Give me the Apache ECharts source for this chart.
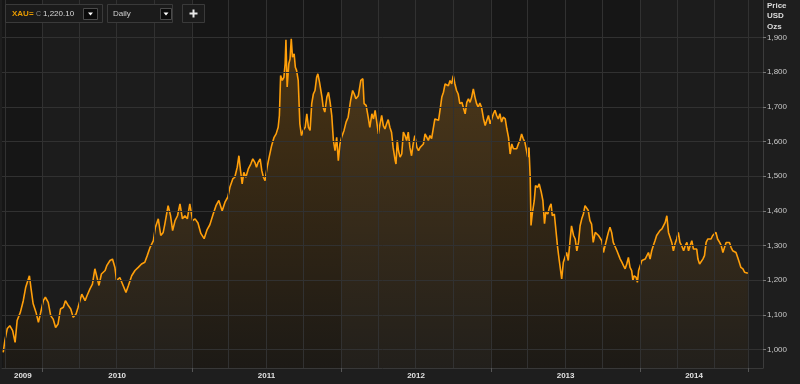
<!DOCTYPE html>
<html><head><meta charset="utf-8">
<script src="https://cdn.jsdelivr.net/npm/echarts@6/dist/echarts.min.js"></script>
<style>html,body{margin:0;padding:0;background:#1e1e1e}#c{width:800px;height:384px}</style>
</head><body><div id="c"></div>
<script>
// ---- data ----
const START = [2009, 9, 1]; // 2009-10-01, day offsets below count from here
const dayOffsets = [
-4,0,6,12,19,25,30,38,45,51,60,64,69,76,82,87,94,99,106,112,118,124,130,136,143,148,155,161,167,174,179,188,196,201,208,214,220,224,230,236,245,249,257,263,269,273,281,289,296,302,310,318,326,334,342,348,355,363,368,375,381,387,391,399,405,410,416,422,428,434,440,446,452,459,465,
472,479,487,494,501,509,516,523,531,538,545,
550,557,562,568,572,576,580,584,589,595,601,606,611,615,619,624,628,632,636,641,646,652,658,663,668,671,674,678,682,685,687,690,694,697,700,703,707,710,713,717,721,725,729,734,738,742,746,750,754,758,762,765,769,772,775,778,782,787,791,795,799,803,807,811,815,819,823,829,834,839,845,850,854,858,864,870,875,878,883,888,892,897,901,905,
913,917,921,925,929,933,937,941,945,949,954,956,959,962,966,970,974,978,982,986,990,994,998,1002,1007,1011,1015,1019,1023,1027,1031,1035,1039,1043,1047,1051,1055,1060,1064,1068,1072,1076,1080,1084,1088,1092,1096,1100,1104,1108,1112,1117,1121,1125,1129,1133,1137,1141,1145,1149,1153,1157,1161,1165,1170,1174,1178,1182,1186,1190,1194,1198,1202,1206,1210,1214,1218,1223,1227,1231,1235,1239,1243,1247,1251,1255,1259,1263,1267,1271,1275,1278,1281,1284,1286,1289,1294,1297,1302,1306,1311,1315,1319,1322,1327,1331,1335,1338,1343,1347,1351,1355,
1361,1365,1369,1373,1377,1381,1385,1390,1394,1398,1402,1406,1410,1414,1418,1422,1426,1430,1434,1438,1443,1447,1451,1455,1459,1463,1467,1471,1475,1479,1483,1487,1491,1496,1500,1504,1508,1512,1516,1520,1524,1528,1532,1535,1538,1543,1546,1549,1553,1557,1561,1565,1569,1573,1577,1581,1585,1589,1593,1597,1601,1606,1610,1614,1618,1622,1626,1630,1634,1638,1642,1646,1650,1654,1659,1663,1667,1671,1675,1679,1683,1687,1691,1694,1698,1702,1706,1710,1714,1718,1722,1726,1730,1734,1738,1742,1747,1751,1755,1759,1763,1767,1771,1775,1779,1783,1787,1791,1795,1799,1804,1808,1812,1816
];
const prices = [
992,1026,1061,1069,1055,1021,1084,1108,1141,1180,1213,1176,1133,1108,1079,1104,1141,1151,1136,1098,1088,1064,1074,1117,1122,1141,1127,1117,1093,1103,1122,1160,1141,1156,1175,1189,1233,1228,1185,1218,1228,1242,1257,1261,1237,1199,1208,1185,1165,1185,1213,1228,1237,1247,1252,1271,1295,1314,1353,1377,1329,1338,1362,1415,1386,1343,1372,1386,1420,1377,1386,1377,1420,1372,1377,
1365,1335,1320,1345,1360,1390,1415,1430,1400,1425,1440,
1468,1492,1497,1526,1559,1516,1478,1511,1497,1521,1535,1550,1540,1526,1540,1550,1516,1497,1487,1526,1555,1588,1612,1622,1641,1675,1790,1776,1785,1824,1893,1757,1824,1838,1896,1843,1853,1814,1805,1776,1651,1617,1632,1641,1680,1641,1632,1709,1737,1747,1785,1795,1771,1776,1728,1699,1685,1728,1742,1713,1675,1603,1574,1612,1545,1593,1612,1632,1656,1670,1718,1747,1737,1723,1732,1776,1781,1709,1704,1670,1641,1680,1665,1690,
1622,1651,1675,1646,1636,1651,1663,1641,1627,1583,1545,1535,1603,1574,1555,1564,1627,1617,1603,1627,1583,1559,1593,1617,1583,1574,1583,1579,1593,1622,1627,1603,1617,1608,1612,1665,1670,1661,1694,1728,1742,1766,1771,1761,1776,1766,1790,1766,1747,1737,1709,1713,1709,1680,1713,1723,1713,1728,1752,1728,1709,1699,1711,1699,1665,1646,1661,1675,1651,1665,1680,1690,1675,1665,1680,1656,1670,1665,1636,1612,1564,1593,1579,1583,1579,1593,1603,1622,1608,1598,1574,1555,1583,1497,1358,1391,1430,1473,1468,1478,1454,1430,1363,1396,1391,1410,1420,1386,1391,1386,1295,1257,
1204,1252,1257,1280,1257,1309,1357,1329,1319,1285,1309,1357,1377,1391,1415,1420,1401,1372,1362,1309,1338,1333,1329,1324,1314,1280,1276,1319,1338,1353,1338,1309,1305,1285,1290,1261,1252,1242,1233,1247,1266,1237,1228,1199,1213,1208,1194,1228,1233,1257,1252,1261,1257,1280,1261,1285,1300,1314,1329,1324,1343,1348,1353,1367,1386,1338,1333,1309,1285,1305,1319,1338,1309,1300,1285,1300,1309,1285,1300,1314,1290,1293,1290,1261,1247,1252,1261,1271,1309,1319,1324,1319,1329,1324,1338,1319,1309,1300,1280,1295,1309,1314,1309,1295,1285,1290,1280,1266,1252,1237,1233,1223,1218,1220.1
];
const yTicks = [1000,1100,1200,1300,1400,1500,1600,1700,1800,1900];
const yearLabels = ['2009','2010','2011','2012','2013','2014'];
const lastPrice = 1220.10;
const lastPriceText = '1,220.10';
const axisRangeDays = [-7, 1853];

// ---- build ----
const DAY = 86400000;
const t0 = Date.UTC(START[0], START[1], START[2]);
const ts = d => t0 + d * DAY;
const seriesData = dayOffsets.map((d, i) => [ts(d), prices[i]]);
const dataStart = ts(dayOffsets[0]);
const dataEnd = ts(dayOffsets[dayOffsets.length - 1]);
const xMin = ts(axisRangeDays[0]), xMax = ts(axisRangeDays[1]);
const yearStart = y => Date.UTC(+y, 0, 1);
const labelPos = yearLabels.map(y => {
  const a = Math.max(yearStart(y), dataStart);
  const b = Math.min(yearStart(+y + 1), dataEnd);
  return (a + b) / 2;
});
const tickPos = yearLabels.slice(1).map(yearStart).concat([dataEnd]);
const quarters = [];
for (let y = 2009; y <= 2014; y++) for (let m = 0; m < 12; m += 3) {
  const t = Date.UTC(y, m, 1);
  if (t > xMin && t < dataEnd) quarters.push(t);
}
quarters.push(dataEnd);
const bands = [];
yearLabels.forEach((y, i) => {
  if (i % 2 === 0) bands.push([{ xAxis: Math.max(yearStart(y), xMin) }, { xAxis: Math.min(yearStart(+y + 1), dataEnd) }]);
});

const FONT = 'Liberation Sans, Arial, sans-serif';
const chart = echarts.init(document.getElementById('c'), null, { renderer: 'canvas' });
const G = (o) => Object.assign({ z: 100, silent: true }, o);
chart.setOption({
  animation: false,
  backgroundColor: '#1e1e1e',
  textStyle: { fontFamily: FONT },
  grid: { left: 2, right: 37, top: 0, bottom: 16, show: true, backgroundColor: '#1c1c1c', borderWidth: 0 },
  xAxis: {
    type: 'value', min: xMin, max: xMax,
    axisLine: { show: true, lineStyle: { color: '#383838', width: 1 } },
    axisTick: { show: true, customValues: tickPos, length: 4, lineStyle: { color: '#555' } },
    axisLabel: {
      customValues: labelPos, margin: 4, color: '#e2e2e2', fontSize: 8, fontWeight: 'bold', fontFamily: FONT,
      formatter: v => String(new Date(v).getUTCFullYear())
    },
    splitLine: { show: false }
  },
  yAxis: {
    type: 'value', position: 'right', min: 947, max: 2008,
    axisLine: { show: true, lineStyle: { color: '#3c3c3c', width: 1 } },
    axisTick: { show: true, customValues: yTicks, length: 3, lineStyle: { color: '#777' } },
    axisLabel: { customValues: yTicks, margin: 4, color: '#c8c8c8', fontSize: 8, fontFamily: FONT, formatter: v => v.toLocaleString('en-US') },
    splitLine: { show: false }
  },
  series: [
    {
      type: 'line', data: [], silent: true, z: 1,
      markArea: { silent: true, itemStyle: { color: '#161616' }, data: bands },
      markLine: {
        silent: true, symbol: ['none', 'none'], label: { show: false },
        lineStyle: { color: '#313131', width: 1, type: 'solid' },
        data: quarters.map(q => ({ xAxis: q })).concat(yTicks.map(v => ({ yAxis: v })))
      }
    },
    {
      type: 'line', data: seriesData, z: 3, showSymbol: false, symbol: 'none',
      lineStyle: { color: '#ff9f0a', width: 1.6 },
      areaStyle: {
        color: new echarts.graphic.LinearGradient(0, 0, 0, 1, [
          { offset: 0, color: 'rgba(255,155,10,0.32)' },
          { offset: 1, color: 'rgba(255,155,10,0.04)' }
        ])
      },
      markLine: {
        silent: true, symbol: ['none', 'none'],
        lineStyle: { opacity: 0 },
        label: {
          show: true, position: 'end', distance: 0, formatter: lastPriceText,
          color: '#ffffff', fontWeight: 'bold', fontSize: 8, fontFamily: FONT,
          backgroundColor: '#f59d00', padding: [2, 2, 1, 3]
        },
        data: [{ yAxis: lastPrice }]
      }
    }
  ],
  graphic: [
    G({ type: 'rect', shape: { x: 5.5, y: 4.5, width: 97, height: 18 }, style: { fill: '#1b1b1b', stroke: '#3a3a3a', lineWidth: 1 } }),
    G({ type: 'text', x: 12, y: 14, style: { text: 'XAU=', fill: '#e89b00', font: 'bold 8px ' + FONT, verticalAlign: 'middle' } }),
    G({ type: 'text', x: 36, y: 14, style: { text: 'C', fill: '#8c8c8c', font: '7px ' + FONT, verticalAlign: 'middle' } }),
    G({ type: 'text', x: 43, y: 14, style: { text: lastPriceText, fill: '#d8d8d8', font: '8px ' + FONT, verticalAlign: 'middle' } }),
    G({ type: 'rect', shape: { x: 83.5, y: 8.5, width: 14, height: 11 }, style: { fill: '#0a0a0a', stroke: '#4a4a4a', lineWidth: 1 } }),
    G({ type: 'polygon', shape: { points: [[88, 12.5], [93, 12.5], [90.5, 15.5]] }, style: { fill: '#ffffff' } }),
    G({ type: 'rect', shape: { x: 107.5, y: 4.5, width: 65, height: 18 }, style: { fill: '#1b1b1b', stroke: '#3a3a3a', lineWidth: 1 } }),
    G({ type: 'text', x: 113, y: 14, style: { text: 'Daily', fill: '#d0d0d0', font: '8px ' + FONT, verticalAlign: 'middle' } }),
    G({ type: 'rect', shape: { x: 160.5, y: 8.5, width: 11, height: 11 }, style: { fill: '#0a0a0a', stroke: '#4a4a4a', lineWidth: 1 } }),
    G({ type: 'polygon', shape: { points: [[163.5, 12.5], [168.5, 12.5], [166, 15.5]] }, style: { fill: '#ffffff' } }),
    G({ type: 'rect', shape: { x: 182.5, y: 4.5, width: 22, height: 18 }, style: { fill: '#1b1b1b', stroke: '#3a3a3a', lineWidth: 1 } }),
    G({ type: 'rect', shape: { x: 189.5, y: 12.5, width: 8, height: 2 }, style: { fill: '#e8e8e8' } }),
    G({ type: 'rect', shape: { x: 192.5, y: 9.5, width: 2, height: 8 }, style: { fill: '#e8e8e8' } }),
    G({ type: 'text', x: 767, y: 5.5, style: { text: 'Price', fill: '#dcdcdc', font: 'bold 8px ' + FONT, verticalAlign: 'middle' } }),
    G({ type: 'text', x: 767, y: 16, style: { text: 'USD', fill: '#dcdcdc', font: 'bold 8px ' + FONT, verticalAlign: 'middle' } }),
    G({ type: 'text', x: 767, y: 26.5, style: { text: 'Ozs', fill: '#dcdcdc', font: 'bold 8px ' + FONT, verticalAlign: 'middle' } })
  ]
});
</script>
</body></html>
